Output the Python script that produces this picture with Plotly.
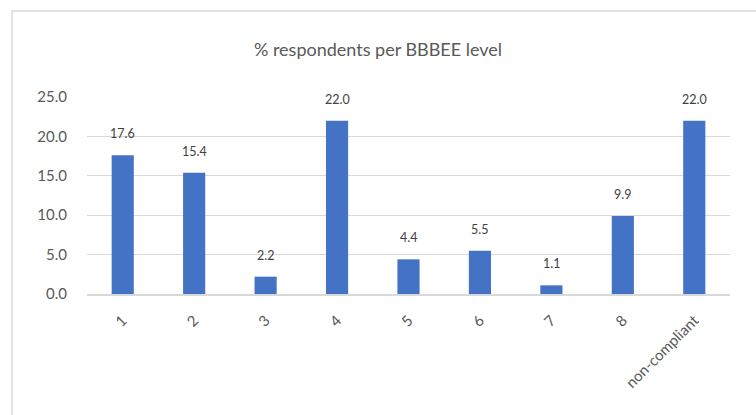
import plotly.graph_objects as go

categories = ["1", "2", "3", "4", "5", "6", "7", "8", "non-compliant"]
values = [17.6, 15.4, 2.2, 22.0, 4.4, 5.5, 1.1, 9.9, 22.0]
title_text = "% respondents per BBBEE level"

FONT = "Lato, Open Sans, sans-serif"
GRAY = "#595959"

fig = go.Figure()
fig.add_trace(go.Bar(
    x=categories, y=values,
    marker=dict(color="#4472C4", line=dict(width=0)),
    hoverinfo="x+y",
))

for i, v in enumerate(values):
    fig.add_annotation(
        x=i, y=v, text=f"{v:.1f}", showarrow=False,
        yanchor="bottom", yshift=12,
        font=dict(family=FONT, size=12.5, color="#404040"),
    )

L, R, T, B = 87, 26, 97, 121
W, H = 756, 415
pw, ph = W - L - R, H - T - B
# chart border (Excel-style chart area outline)
fig.add_shape(type="rect", xref="paper", yref="paper",
              x0=(12 - L) / pw, x1=(W + 5 - L) / pw,
              y0=-(H + 5 - (H - B)) / ph, y1=(H - B - 11) / ph,
              line=dict(color="#D9D9D9", width=1.5), layer="below")

fig.update_layout(
    width=W, height=H,
    margin=dict(l=L, r=R, t=T, b=B),
    paper_bgcolor="white", plot_bgcolor="white",
    bargap=0.69,
    showlegend=False,
    title=dict(text=title_text, x=0.5, xanchor="center", xref="container",
               y=1 - 50 / H, yanchor="middle", yref="container",
               font=dict(family=FONT, size=18, color=GRAY)),
    xaxis=dict(
        type="category", tickangle=-45,
        tickfont=dict(family=FONT, size=15, color=GRAY),
        showgrid=False, showline=True, linecolor="#D9D9D9", linewidth=1.5,
        ticks="", ticklabelstandoff=10,
    ),
    yaxis=dict(
        range=[0, 25], tickvals=[0, 5, 10, 15, 20, 25],
        tickformat=".1f",
        tickfont=dict(family=FONT, size=15, color=GRAY),
        showgrid=True, gridcolor="#D9D9D9", gridwidth=1,
        zeroline=False, showline=False, ticks="", ticklabelstandoff=19,
    ),
)

fig.write_html("out.html")
